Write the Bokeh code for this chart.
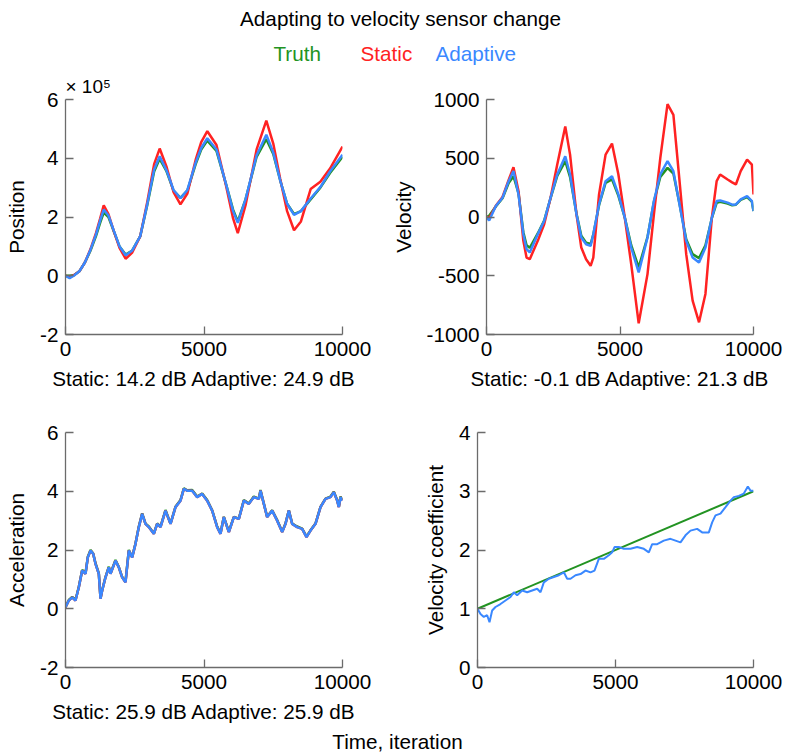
from bokeh.plotting import figure
from bokeh.models import Range1d, FixedTicker, ColumnDataSource, Title
from bokeh.layouts import column, row
from bokeh.embed import file_html
from bokeh.resources import INLINE
from bokeh.core.properties import value

FONT = "Liberation Sans"
FS = "20.7px"
GREEN = "#229322"
RED = "#ff2222"
BLUE = "#3a88ff"
AXC = "#6b6b6b"

# ---------------- data ----------------
title_text = "Adapting to velocity sensor change"
legend_labels = ["Truth", "Static", "Adaptive"]
x_ticks = [0, 5000, 10000]

# Position (units of 1e5)
pos_t = [0, 150, 300, 500, 700, 900, 1100, 1250, 1380, 1550, 1750, 1950, 2170, 2400, 2700, 2950,
         3200, 3400, 3650, 3900, 4150, 4400, 4700, 4900, 5120, 5450, 5800, 6050, 6220, 6500,
         6900, 7250, 7500, 7750, 8000, 8250, 8500, 8850, 9200, 9550, 10000]
pos_truth = [0.0, 0.0, 0.02, 0.15, 0.45, 0.85, 1.35, 1.8, 2.15, 2.0, 1.5, 1.0, 0.72, 0.85, 1.35, 2.4,
             3.55, 3.98, 3.55, 2.9, 2.65, 2.9, 3.8, 4.3, 4.6, 4.25, 3.1, 2.25, 1.85, 2.6,
             4.05, 4.65, 4.15, 3.25, 2.45, 2.1, 2.2, 2.6, 3.0, 3.5, 4.05]
pos_static = [0.0, -0.05, 0.02, 0.15, 0.45, 0.9, 1.45, 1.95, 2.4, 2.1, 1.5, 0.95, 0.58, 0.78, 1.35, 2.5,
              3.8, 4.33, 3.7, 2.85, 2.43, 2.8, 3.95, 4.55, 4.92, 4.45, 3.05, 1.95, 1.45, 2.4,
              4.3, 5.28, 4.5, 3.3, 2.2, 1.55, 1.85, 2.95, 3.2, 3.65, 4.4]
pos_adapt = [0.0, -0.08, 0.0, 0.15, 0.45, 0.88, 1.4, 1.88, 2.25, 2.05, 1.52, 1.0, 0.7, 0.85, 1.35, 2.43,
             3.62, 4.07, 3.58, 2.92, 2.64, 2.92, 3.85, 4.35, 4.68, 4.3, 3.1, 2.2, 1.8, 2.6,
             4.1, 4.8, 4.2, 3.25, 2.45, 2.07, 2.2, 2.63, 3.02, 3.55, 4.12]
pos_yticks = [-2, 0, 2, 4, 6]
pos_scale_text = "× 10\u2075"

# Velocity
vel_t = [0, 100, 350, 600, 830, 1010, 1200, 1380, 1500, 1620, 1920, 2160, 2400, 2650, 2950, 3130,
         3370, 3550, 3730, 3900, 4000, 4215, 4460, 4700, 4940, 5180, 5420, 5700, 6030, 6270,
         6510, 6780, 7000, 7230, 7480, 7720, 7960, 8200, 8440, 8620, 8750, 9030, 9200, 9340,
         9520, 9760, 9940, 10000]
vel_truth = [0, 10, 90, 160, 290, 347, 200, -130, -240, -262, -140, -30, 160, 350, 475, 340,
             30, -160, -218, -230, -150, 100, 290, 320, 180, -5, -240, -429, -170, 130,
             340, 418, 370, 110, -190, -316, -350, -240, -10, 120, 130, 115, 100, 105,
             145, 170, 130, 50]
vel_static = [0, -10, 95, 170, 315, 424, 220, -203, -345, -359, -203, -62, 164, 446, 771, 531,
              23, -260, -359, -415, -345, 192, 531, 625, 362, -6, -401, -905, -486, 23,
              503, 960, 870, 305, -316, -712, -896, -655, -6, 305, 362, 319, 295, 277,
              390, 489, 446, 192]
vel_adapt = [0, -30, 93, 164, 305, 392, 192, -147, -274, -302, -147, -34, 164, 362, 517, 362,
             23, -175, -232, -246, -147, 107, 305, 347, 192, -6, -260, -472, -175, 136,
             362, 475, 390, 107, -203, -345, -387, -260, -6, 136, 140, 122, 105, 107,
             150, 178, 136, 51]
vel_yticks = [-1000, -500, 0, 500, 1000]

# Acceleration
acc_t = [0, 120, 241, 361, 481, 602, 722, 806, 903, 999, 1083, 1203, 1264, 1324, 1444, 1564, 1625,
         1805, 1925, 2046, 2166, 2286, 2407, 2527, 2647, 2768, 2888, 3008, 3189, 3309, 3430, 3610,
         3791, 3971, 4152, 4272, 4392, 4573, 4753, 4934, 5114, 5295, 5475, 5596, 5716, 5897, 6077,
         6258, 6438, 6619, 6799, 6980, 7040, 7160, 7280, 7461, 7641, 7822, 7942, 8063, 8183, 8363,
         8544, 8700, 8845, 9025, 9206, 9386, 9567, 9687, 9807, 9868, 9928, 10000]
acc_truth = [0.05, 0.3, 0.4, 0.3, 0.75, 1.32, 1.2, 1.77, 2.0, 1.88, 1.55, 1.2, 0.36, 0.63, 1.08, 1.43, 1.2,
             1.66, 1.42, 1.08, 0.92, 2.0, 1.76, 2.22, 2.8, 3.25, 2.9, 2.8, 2.56, 2.9, 2.8, 3.36,
             2.9, 3.47, 3.7, 4.1, 4.03, 4.04, 3.82, 3.92, 3.7, 3.35, 2.8, 2.57, 3.13, 2.63, 3.13,
             3.07, 3.7, 3.58, 3.82, 3.75, 4.04, 3.58, 3.13, 3.35, 3.02, 2.62, 2.9, 3.35, 2.9, 2.8,
             2.73, 2.46, 2.67, 2.9, 3.47, 3.75, 3.82, 3.98, 3.7, 3.47, 3.82, 3.7]
acc_static = [0.05, 0.28, 0.39, 0.28, 0.73, 1.3, 1.19, 1.75, 1.98, 1.87, 1.53, 1.19, 0.34, 0.62, 1.07, 1.41, 1.19,
              1.64, 1.41, 1.07, 0.9, 1.98, 1.75, 2.21, 2.78, 3.23, 2.89, 2.78, 2.55, 2.89, 2.78, 3.34,
              2.89, 3.46, 3.68, 4.08, 4.02, 4.02, 3.8, 3.91, 3.68, 3.34, 2.78, 2.55, 3.12, 2.61, 3.12,
              3.06, 3.68, 3.57, 3.8, 3.74, 4.02, 3.57, 3.12, 3.34, 3.0, 2.61, 2.89, 3.34, 2.89, 2.78,
              2.72, 2.44, 2.66, 2.89, 3.46, 3.74, 3.8, 3.97, 3.68, 3.46, 3.8, 3.68]
acc_adapt = [0.05, 0.28, 0.39, 0.28, 0.73, 1.3, 1.19, 1.75, 1.98, 1.87, 1.53, 1.19, 0.34, 0.62, 1.07, 1.41, 1.19,
             1.64, 1.41, 1.07, 0.9, 1.98, 1.75, 2.21, 2.78, 3.23, 2.89, 2.78, 2.55, 2.89, 2.78, 3.34,
             2.89, 3.46, 3.68, 4.08, 4.02, 4.02, 3.8, 3.91, 3.68, 3.34, 2.78, 2.55, 3.12, 2.61, 3.12,
             3.06, 3.68, 3.57, 3.8, 3.74, 4.02, 3.57, 3.12, 3.34, 3.0, 2.61, 2.89, 3.34, 2.89, 2.78,
             2.72, 2.44, 2.66, 2.89, 3.46, 3.74, 3.8, 3.97, 3.68, 3.46, 3.8, 3.68]
acc_yticks = [-2, 0, 2, 4, 6]

# Velocity coefficient
vc_truth_t = [0, 10000]
vc_truth = [1.0, 3.0]
vc_t = [0, 109, 229, 350, 435, 531, 652, 833, 1014, 1196, 1316, 1437, 1618, 1800, 1981, 2162, 2283,
        2403, 2585, 2766, 2947, 3128, 3249, 3370, 3551, 3732, 3913, 4094, 4239, 4396, 4577, 4758,
        4879, 4964, 5121, 5302, 5543, 5785, 6027, 6208, 6329, 6510, 6751, 6993, 7174, 7355, 7536,
        7717, 7959, 8140, 8382, 8502, 8623, 8804, 8986, 9167, 9287, 9469, 9650, 9795, 9891, 10000]
vc_adapt = [1.0, 0.91, 0.86, 0.89, 0.77, 0.97, 1.03, 1.08, 1.14, 1.2, 1.28, 1.23, 1.31, 1.28, 1.31, 1.34,
            1.28, 1.45, 1.51, 1.54, 1.57, 1.62, 1.51, 1.51, 1.57, 1.59, 1.65, 1.62, 1.65, 1.85, 1.85,
            1.91, 1.96, 2.05, 2.05, 2.02, 2.02, 2.05, 2.02, 1.96, 2.1, 2.1, 2.16, 2.19, 2.16, 2.13,
            2.25, 2.33, 2.36, 2.3, 2.3, 2.47, 2.59, 2.62, 2.73, 2.84, 2.9, 2.92, 2.96, 3.08, 3.01, 3.01]
vc_yticks = [0, 1, 2, 3, 4]

subtitles = ["Static: 14.2 dB Adaptive: 24.9 dB",
             "Static: -0.1 dB Adaptive: 21.3 dB",
             "Static: 25.9 dB Adaptive: 25.9 dB",
             ""]
ylabels = ["Position", "Velocity", "Acceleration", "Velocity coefficient"]
xlabel_common = "Time, iteration"


# ---------------- helpers ----------------
def make_panel(width, height, yrange, yticks, ylabel, xlabel, mb):
    p = figure(width=width, height=height, x_range=Range1d(0, 10000), y_range=Range1d(*yrange),
               output_backend="svg", toolbar_location=None,
               min_border_left=mb[0], min_border_right=mb[1],
               min_border_top=mb[2], min_border_bottom=mb[3])
    p.outline_line_color = None
    p.grid.visible = False
    p.xaxis.ticker = FixedTicker(ticks=x_ticks)
    p.yaxis.ticker = FixedTicker(ticks=yticks)
    p.xaxis.major_label_overrides = {t: str(t) for t in x_ticks}
    p.yaxis.major_label_overrides = {t: str(t) for t in yticks}
    for ax in (p.xaxis[0], p.yaxis[0]):
        ax.major_tick_in = 8
        ax.major_tick_out = 0
        ax.minor_tick_line_color = None
        ax.axis_line_color = AXC
        ax.axis_line_width = 1.3
        ax.major_tick_line_color = AXC
        ax.major_tick_line_width = 1.3
        ax.major_label_text_font = FONT
        ax.major_label_text_font_size = FS
        ax.major_label_text_color = "black"
        ax.axis_label_text_font = FONT
        ax.axis_label_text_font_size = FS
        ax.axis_label_text_font_style = "normal"
        ax.axis_label_text_color = "black"
    p.xaxis.axis_label = xlabel if xlabel else None
    p.yaxis.axis_label = ylabel
    p.xaxis.major_label_standoff = 7
    p.xaxis.axis_label_standoff = 8
    p.yaxis.major_label_standoff = 7
    p.yaxis.axis_label_standoff = 9
    return p


def blank(width, height):
    b = figure(width=width, height=height, x_range=Range1d(0, width), y_range=Range1d(0, height),
               x_axis_type=None, y_axis_type=None, output_backend="svg",
               toolbar_location=None, min_border=0)
    b.outline_line_color = None
    b.grid.visible = False
    return b


# header (title and legend)
HH = 70
header = blank(786, HH)
header.text(x=[400], y=[HH - 17.5], text=[title_text], text_font=value(FONT), text_font_size=FS,
            text_align="center", text_baseline="middle", text_color="black")
leg_src = ColumnDataSource(dict(x=[273, 360, 435], y=[HH - 53] * 3, text=legend_labels,
                                color=[GREEN, RED, BLUE]))
header.text(x="x", y="y", text="text", text_color="color", source=leg_src,
            text_font=value(FONT), text_font_size=FS, text_baseline="middle")

# panels
p1 = make_panel(388, 328, (-2, 6), pos_yticks, ylabels[0], subtitles[0], (65, 46, 28, 64))
p1.title = Title(text=pos_scale_text, align="left", offset=0, standoff=6,
                 text_font=FONT, text_font_size="19px", text_font_style="normal",
                 text_color="black")
p1.line(pos_t, pos_truth, color=GREEN, line_width=2.5)
p1.line(pos_t, pos_static, color=RED, line_width=2.5)
p1.line(pos_t, pos_adapt, color=BLUE, line_width=2.5)

p2 = make_panel(398, 328, (-1000, 1000), vel_yticks, ylabels[1], subtitles[1], (89, 33, 28, 64))
p2.line(vel_t, vel_truth, color=GREEN, line_width=2.5)
p2.line(vel_t, vel_static, color=RED, line_width=2.5)
p2.line(vel_t, vel_adapt, color=BLUE, line_width=2.5)

p3 = make_panel(388, 327, (-2, 6), acc_yticks, ylabels[2], subtitles[2], (65, 46, 34, 58))
p3.line(acc_t, acc_truth, color=GREEN, line_width=2.5)
p3.line(acc_t, acc_static, color=RED, line_width=2.5)
p3.line(acc_t, acc_adapt, color=BLUE, line_width=2.5)

p4 = make_panel(398, 327, (0, 4), vc_yticks, ylabels[3], subtitles[3], (89, 33, 34, 58))
p4.line(vc_truth_t, vc_truth, color=GREEN, line_width=2)
p4.line(vc_t, vc_adapt, color=BLUE, line_width=2)

FH = 28
footer = blank(786, FH)
footer.text(x=[397], y=[FH - 16], text=[xlabel_common], text_font=value(FONT), text_font_size=FS,
            text_align="center", text_baseline="middle", text_color="black")

layout = column(header, row(p1, p2), row(p3, p4), footer)

with open("out.html", "w") as f:
    f.write(file_html(layout, INLINE))
